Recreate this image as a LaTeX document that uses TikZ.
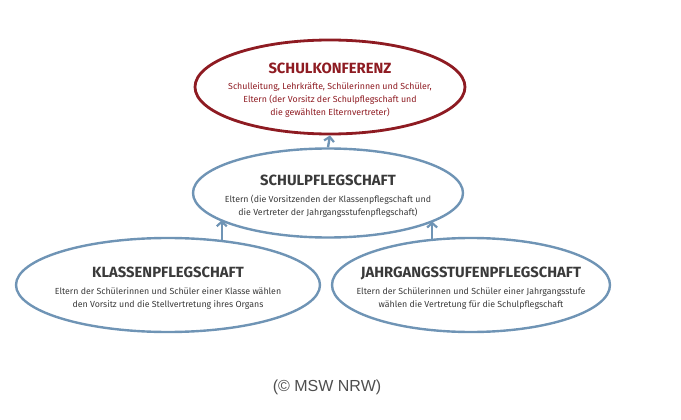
\documentclass[tikz,border=0pt]{standalone}
\usepackage{fontspec}
\setmainfont{Fira Sans}
\newfontfamily\credfont{Liberation Sans}
\usetikzlibrary{shapes.geometric,arrows.meta}

\definecolor{konfrot}{HTML}{8E1B22}
\definecolor{pflegblau}{HTML}{6F94B5}
\definecolor{textgrau}{HTML}{3A3A3A}

% Titelzeile mit etwas mehr Luft nach oben
\newcommand{\titel}[1]{{\fontsize{14.8}{16}\selectfont\bfseries\rule{0pt}{17pt}#1}\\[3.5pt]}

\tikzset{
  gremium/.style={ellipse, draw=pflegblau, line width=2.4pt, align=center,
    text=textgrau, inner xsep=-70pt, inner ysep=-30pt,
    font=\fontsize{8.8}{13}\selectfont},
  hoch/.style={draw=pflegblau, line width=2.4pt,
    -{Straight Barb[length=4.5pt,width=10pt,line width=2.2pt]}}
}

\begin{document}
\begin{tikzpicture}[x=1pt,y=-1pt]
        % Rahmen wie im Original
        \useasboundingbox (0,0) rectangle (681,420);

        % Oberstes Gremium
        \node[gremium, draw=konfrot, text=konfrot, line width=2.8pt,
              minimum width=270pt, minimum height=94pt] (konferenz) at (330,87)
            {\titel{SCHULKONFERENZ}
             Schulleitung, Lehrkräfte, Schülerinnen und Schüler,\\
             Eltern (der Vorsitz der Schulpflegschaft und\\
             die gewählten Elternvertreter)};

        % Mittlere Ebene
        \node[gremium, minimum width=270pt, minimum height=89pt] (pfleg) at (328,193)
            {\titel{SCHULPFLEGSCHAFT}
             Eltern (die Vorsitzenden der Klassenpflegschaft und\\
             die Vertreter der Jahrgangsstufenpflegschaft)};

        % Untere Ebene
        \node[gremium, minimum width=304pt, minimum height=94pt] (klasse) at (168,285)
            {\titel{KLASSENPFLEGSCHAFT}
             Eltern der Schülerinnen und Schüler einer Klasse wählen\\
             den Vorsitz und die Stellvertretung ihres Organs};
        \node[gremium, minimum width=278pt, minimum height=94pt] (jahrgang) at (471,285)
            {\titel{JAHRGANGSSTUFENPFLEGSCHAFT}
             Eltern der Schülerinnen und Schüler einer Jahrgangsstufe\\
             wählen die Vertretung für die Schulpflegschaft};

        % Pfeile nach oben
        \draw[hoch] (pfleg.north) -- (konferenz.south);
        \draw[hoch] (klasse.40) -- (klasse.40 |- pfleg.194);
        \draw[hoch] (jahrgang.130) -- (jahrgang.130 |- pfleg.345);

        % Quelle
        \node[font=\credfont\fontsize{16}{18}\selectfont, text=textgrau!90] (quelle) at (327,387)
            {(© MSW NRW)};
\end{tikzpicture}
\end{document}
